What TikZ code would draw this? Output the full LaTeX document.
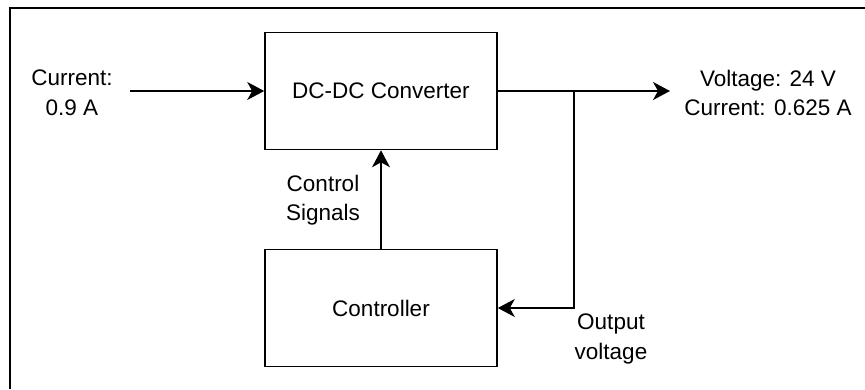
\documentclass[tikz,border=0pt]{standalone}
\usepackage{fontspec}
\setmainfont{Liberation Sans}
\usetikzlibrary{arrows.meta}
\begin{document}
\begin{tikzpicture}[x=1pt,y=-1pt,
  blk/.style={draw,line width=1.6pt,minimum width=232pt,minimum height=117pt,inner sep=0pt},
  lbl/.style={align=center,inner sep=0pt,font=\fontsize{22.5}{29.5}\selectfont},
  conn/.style={line width=1.6pt,-{Stealth[length=17pt,width=18pt,inset=5pt]}},
  wire/.style={line width=1.6pt}]
\useasboundingbox (0,0) rectangle (865,389);
\draw[line width=2.2pt] (10,389) -- (10,8) -- (865,8);
\node[blk] (conv) at (381,91) {};
\node[lbl] at (conv.center) {DC-DC Converter};
\node[blk] (ctrl) at (381,308) {};
\node[lbl] at (ctrl.center) {Controller};
\node[lbl] (in) at (72,93) {Current:\\0.9 A};
\node[lbl] (out) at (768,93) {Voltage: 24 V\\Current: 0.625 A};
\node[lbl] (cs) at (323,200) {Control\\Signals};
\node[lbl] (ov) at (611,339) {Output\\voltage};
\coordinate (src) at (130,91);
\coordinate (dst) at (670,91);
\coordinate (tap) at (574,91);
\draw[conn] (src) -- (conv.west);
\draw[conn] (conv.east) -- (dst);
\draw[conn] (ctrl.north) -- (conv.south);
\draw[conn] (tap) |- (ctrl.east);
\end{tikzpicture}
\end{document}
